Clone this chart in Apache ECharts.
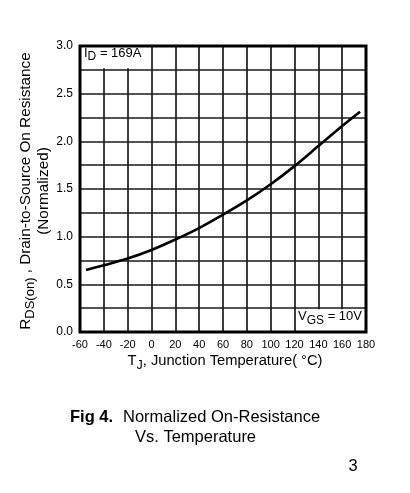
<!DOCTYPE html>
<html><head><meta charset="utf-8">
<script src="https://cdn.jsdelivr.net/npm/echarts@6/dist/echarts.min.js"></script>
<style>html,body{margin:0;padding:0;background:#fff;}#c{width:410px;height:493px;}</style>
</head><body><div id="c"></div>
<script>
var temps = [-55, -40, -20, 0, 20, 40, 60, 80, 100, 120, 140, 160, 175];
var rdsNorm = [0.65, 0.70, 0.77, 0.86, 0.97, 1.09, 1.23, 1.38, 1.55, 1.74, 1.95, 2.16, 2.31];
var xTicks = [-60, -40, -20, 0, 20, 40, 60, 80, 100, 120, 140, 160, 180];
var yTicks = [0.0, 0.5, 1.0, 1.5, 2.0, 2.5, 3.0];

var FONT = 'Liberation Sans, Arial, sans-serif';
var chart = echarts.init(document.getElementById('c'), null, {renderer: 'canvas'});
var grid = {left: 80, right: 44, top: 46, bottom: 161};
chart.setOption({
  animation: false,
  backgroundColor: '#fff',
  grid: Object.assign({show: false}, grid),
  xAxis: {
    type: 'value', min: xTicks[0], max: xTicks[xTicks.length - 1], interval: 20,
    axisLine: {show: false}, axisTick: {show: false},
    axisLabel: {color: '#000', fontSize: 11, fontFamily: FONT, margin: 7},
    splitLine: {show: true, lineStyle: {color: '#1a1a1a', width: 1.7}}
  },
  yAxis: {
    type: 'value', min: 0, max: 3, interval: 0.25,
    axisLine: {show: false}, axisTick: {show: false},
    axisLabel: {color: '#000', fontSize: 12, fontFamily: FONT, margin: 7,
      formatter: function (v) { return yTicks.some(function (t) { return Math.abs(t - v) < 1e-6; }) ? v.toFixed(1) : ''; }},
    splitLine: {show: true, lineStyle: {color: '#1a1a1a', width: 1.7}}
  },
  series: [{
    type: 'line', data: temps.map(function (t, i) { return [t, rdsNorm[i]]; }),
    smooth: 0.3, symbol: 'none', lineStyle: {color: '#000', width: 2.6}, z: 3
  }]
});

function px(x, y) { return chart.convertToPixel({gridIndex: 0}, [x, y]); }
var tl = px(-60, 3), br = px(180, 0);
var p0 = px(0, 2.75), p1 = px(120, 0.25);
var g = [];
g.push({type: 'rect', z: 50, shape: {x: tl[0], y: tl[1], width: p0[0] - tl[0] - 1, height: p0[1] - tl[1] - 1.5}, style: {fill: '#fff'}});
g.push({type: 'rect', z: 50, shape: {x: p1[0] + 1.5, y: p1[1] + 1, width: br[0] - p1[0] - 1.5, height: br[1] - p1[1] - 1}, style: {fill: '#fff'}});
g.push({type: 'rect', z: 60, shape: {x: tl[0], y: tl[1], width: br[0] - tl[0], height: br[1] - tl[1]}, style: {fill: null, stroke: '#000', lineWidth: 3}});
g.push({type: 'text', z: 70, x: tl[0] + 4, y: tl[1] + 1, style: {
  text: '{a|I}{b|D}{a| = 169A}', fill: '#000',
  rich: {a: {fontSize: 13, fontFamily: FONT, lineHeight: 15, verticalAlign: 'top'},
         b: {fontSize: 12, fontFamily: FONT, lineHeight: 12, verticalAlign: 'top', padding: [4, 0, 0, 0]}}
}});
g.push({type: 'text', z: 70, x: br[0] - 4, y: p1[1] + 2, style: {
  text: '{a|V}{b|GS}{a| = 10V}', fill: '#000', align: 'right',
  rich: {a: {fontSize: 13, fontFamily: FONT, lineHeight: 15, verticalAlign: 'top'},
         b: {fontSize: 12, fontFamily: FONT, lineHeight: 12, verticalAlign: 'top', padding: [5, 0, 0, 0]}}
}});
g.push({type: 'text', z: 70, x: 36, y: (tl[1] + br[1]) / 2 + 2, rotation: Math.PI / 2, style: {
  text: '{a|R}{b|DS(on)}{a| , Drain-to-Source On Resistance}\n{a|(Normalized)}', fill: '#000',
  align: 'center', verticalAlign: 'middle',
  rich: {a: {fontSize: 15.3, fontFamily: FONT, lineHeight: 18, verticalAlign: 'top'},
         b: {fontSize: 13, fontFamily: FONT, lineHeight: 13, verticalAlign: 'top', padding: [6, 0, 0, 0]}}
}});
g.push({type: 'text', z: 70, x: (tl[0] + br[0]) / 2 + 2, y: 353, style: {
  text: '{a|T}{b|J}{a|, Junction Temperature( °C)}', fill: '#000', align: 'center',
  rich: {a: {fontSize: 14.7, fontFamily: FONT, lineHeight: 17, verticalAlign: 'top'},
         b: {fontSize: 12.5, fontFamily: FONT, lineHeight: 12, verticalAlign: 'top', padding: [6, 0, 0, 0]}}
}});
g.push({type: 'text', x: 70, y: 417, style: {text: 'Fig 4.', font: 'bold 16.5px ' + FONT, fill: '#000', verticalAlign: 'middle'}});
g.push({type: 'text', x: 123, y: 417, style: {text: 'Normalized On-Resistance', font: '16.5px ' + FONT, fill: '#000', verticalAlign: 'middle'}});
g.push({type: 'text', x: 135, y: 437, style: {text: 'Vs. Temperature', font: '16.5px ' + FONT, fill: '#000', verticalAlign: 'middle'}});
g.push({type: 'text', x: 353, y: 466, style: {text: '3', font: '16.5px ' + FONT, fill: '#000', align: 'center', verticalAlign: 'middle'}});
chart.setOption({graphic: g});
</script></body></html>
